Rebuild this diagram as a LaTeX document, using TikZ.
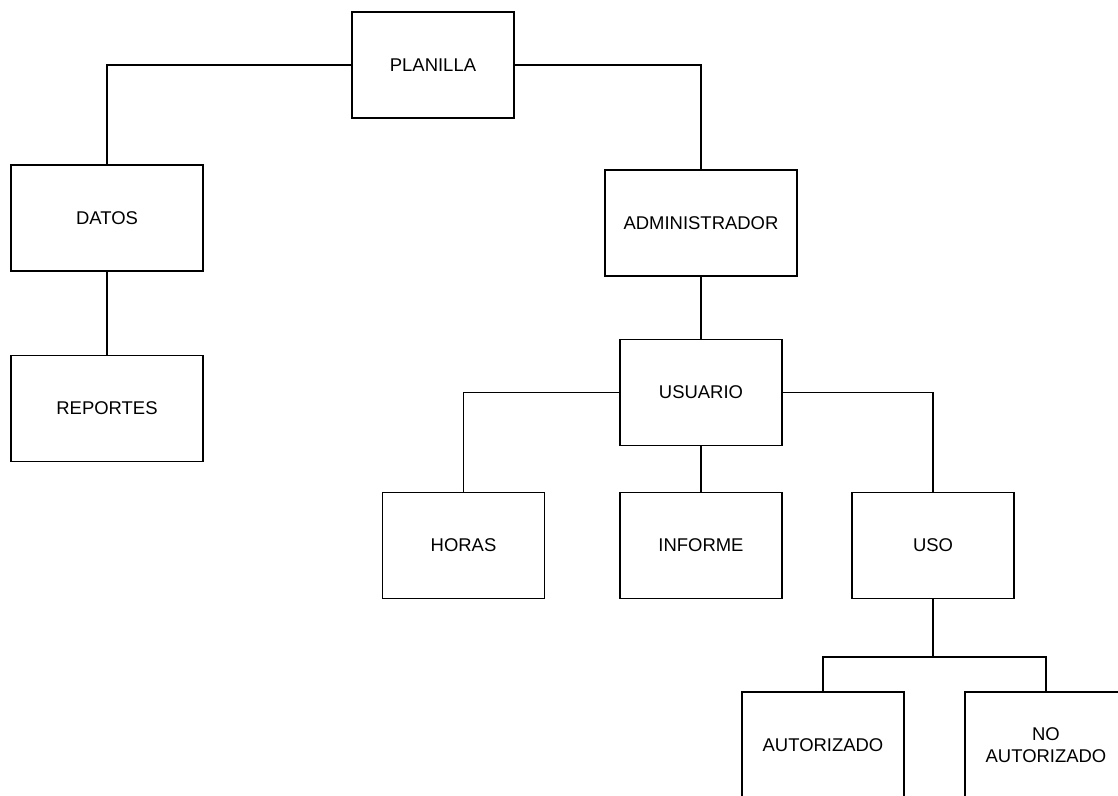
\documentclass[tikz,border=0pt]{standalone}
\usepackage{fontspec}
\setmainfont{Liberation Sans}
\usetikzlibrary{positioning}
\tikzset{
	boxnode/.style={
			shape=rectangle,
			draw=black,
			line width=0.8pt,
			fill=white,
			minimum height=21.2mm,
			minimum width=32.4mm,
			inner sep=0pt,
			align=center,
			font=\fontsize{10.5}{12.5}\selectfont
		},
	widenode/.style={
			boxnode,
			minimum width=38.4mm
		},
	link/.style={
			line width=1pt
		}
}

\begin{document}
\begin{tikzpicture}[x=0.2mm, y=-0.2mm]
				\clip (0,0) rectangle (1118,796);

				\node[boxnode]  (plan)  at (433,65)     {PLANILLA};
				\node[widenode] (datos) at (107,218)    {DATOS};
				\node[widenode] (rep)   at (107,408.5)  {REPORTES};
				\node[widenode] (admin) at (701,223)    {ADMINISTRADOR};
				\node[boxnode]  (usr)   at (701,392.5)  {USUARIO};
				\node[boxnode]  (horas) at (463.5,545.5) {HORAS};
				\node[boxnode]  (inf)   at (701,545.5)  {INFORME};
				\node[boxnode]  (uso)   at (933,545.5)  {USO};
				% the lower edge of these two falls off the page
				\node[boxnode]  (aut)   at (823,745)    {AUTORIZADO};
				\node[boxnode]  (noaut) at (1046,745)   {NO\\AUTORIZADO};

				\coordinate (usoj) at (933,657);

				\draw[link] (plan.west) -| (datos.north);
				\draw[link] (plan.east) -| (admin.north);
				\draw[link] (datos) -- (rep);
				\draw[link] (admin) -- (usr);

				\draw[link] (usr.west) -| (horas.north);
				\draw[link] (usr) -- (inf);
				\draw[link] (usr.east) -| (uso.north);

				\draw[link] (uso.south) -- (usoj);
				\draw[link] (aut.north) |- (usoj) -| (noaut.north);

			\end{tikzpicture}
\end{document}
